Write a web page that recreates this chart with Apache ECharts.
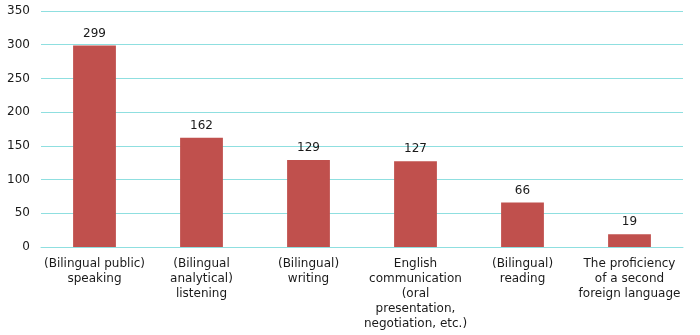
<!DOCTYPE html>
<html>
<head>
<meta charset="utf-8">
<script src="https://cdn.jsdelivr.net/npm/echarts@6/dist/echarts.min.js"></script>
<style>
  html, body { margin: 0; padding: 0; background: #ffffff; }
  #chart { width: 700px; height: 335px; }
</style>
</head>
<body>
<div id="chart"></div>
<script>
// Skill categories along the x axis
const categories = [
  "(Bilingual public)\nspeaking",
  "(Bilingual\nanalytical)\nlistening",
  "(Bilingual)\nwriting",
  "English\ncommunication\n(oral\npresentation,\nnegotiation, etc.)",
  "(Bilingual)\nreading",
  "The proficiency\nof a second\nforeign language"
];

// Number of responses per category
const counts = [299, 162, 129, 127, 66, 19];

// Value axis range
const yMin = 0;
const yMax = 350;
const yStep = 50;

const chart = echarts.init(document.getElementById('chart'), null, { renderer: 'canvas' });
const font = 'Verdana, "DejaVu Sans", sans-serif';

chart.setOption({
  animation: false,
  backgroundColor: '#ffffff',
  grid: { left: 41, right: 17, top: 11, bottom: 88, containLabel: false },
  xAxis: {
    type: 'category',
    data: categories,
    axisLine: { show: true, lineStyle: { color: '#8fdfe0', width: 1 } },
    axisTick: { show: false },
    axisLabel: {
      interval: 0,
      color: '#1a1a1a',
      fontFamily: font,
      fontSize: 12,
      lineHeight: 15,
      margin: 9,
      align: 'center'
    }
  },
  yAxis: {
    type: 'value',
    min: yMin,
    max: yMax,
    interval: yStep,
    axisLine: { show: false },
    axisTick: { show: false },
    splitLine: { show: true, lineStyle: { color: '#8fdfe0', width: 1 } },
    axisLabel: {
      color: '#1a1a1a',
      fontFamily: font,
      fontSize: 12,
      margin: 11
    }
  },
  series: [{
    type: 'bar',
    data: counts,
    barWidth: '40%',
    itemStyle: { color: '#c0504d' },
    label: {
      show: true,
      position: 'top',
      distance: 6,
      color: '#1a1a1a',
      fontFamily: font,
      fontSize: 12
    }
  }]
});
</script>
</body>
</html>
